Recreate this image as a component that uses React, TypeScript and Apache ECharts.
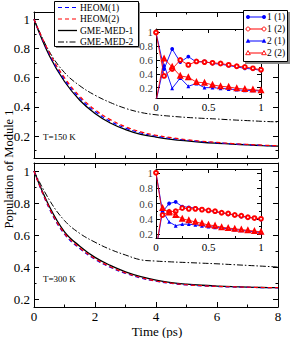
import React, { useEffect, useRef } from "react";
import * as echarts from "echarts";

const FONT = "'Liberation Serif', 'DejaVu Serif', serif";

// main panels: time (ps)
const mainTime = [0, 0.5, 1, 1.5, 2, 2.5, 3, 3.5, 4, 4.5, 5, 5.5, 6, 6.5, 7, 7.5, 8];
// T = 150 K
const heom1_150 = [1, 0.762, 0.587, 0.46, 0.368, 0.302, 0.255, 0.221, 0.2, 0.184, 0.172, 0.162, 0.154, 0.147, 0.141, 0.136, 0.132];
const heom2_150 = [1, 0.772, 0.6, 0.473, 0.38, 0.313, 0.264, 0.229, 0.206, 0.189, 0.176, 0.165, 0.157, 0.149, 0.143, 0.138, 0.134];
const gme1_150 = [1, 0.752, 0.574, 0.446, 0.355, 0.29, 0.245, 0.212, 0.193, 0.178, 0.167, 0.158, 0.151, 0.145, 0.14, 0.135, 0.131];
const gme2_150 = [1, 0.78, 0.635, 0.545, 0.48, 0.43, 0.39, 0.362, 0.346, 0.336, 0.328, 0.322, 0.317, 0.311, 0.306, 0.301, 0.297];
// T = 300 K
const heom1_300 = [1, 0.765, 0.605, 0.515, 0.448, 0.398, 0.36, 0.331, 0.311, 0.297, 0.288, 0.282, 0.278, 0.275, 0.273, 0.271, 0.27];
const heom2_300 = [1, 0.77, 0.61, 0.52, 0.452, 0.402, 0.363, 0.334, 0.313, 0.299, 0.289, 0.283, 0.279, 0.276, 0.274, 0.272, 0.271];
const gme1_300 = [1, 0.78, 0.62, 0.53, 0.46, 0.41, 0.37, 0.34, 0.318, 0.303, 0.293, 0.286, 0.281, 0.277, 0.274, 0.272, 0.271];
const gme2_300 = [1, 0.82, 0.69, 0.61, 0.555, 0.51, 0.475, 0.445, 0.437, 0.432, 0.428, 0.424, 0.42, 0.415, 0.41, 0.405, 0.4];

// insets
const insetTime150 = [0, 0.077, 0.154, 0.231, 0.308, 0.385, 0.462, 0.538, 0.615, 0.692, 0.769, 0.846, 0.923, 1];
const s11_150 = [1, 0.47, 0.76, 0.57, 0.65, 0.57, 0.58, 0.55, 0.54, 0.52, 0.5, 0.48, 0.47, 0.45];
const s12_150 = [1, 0.37, 0.47, 0.6, 0.53, 0.58, 0.57, 0.56, 0.55, 0.53, 0.51, 0.5, 0.48, 0.46];
const s21_150 = [0, 0.53, 0.19, 0.34, 0.22, 0.26, 0.2, 0.2, 0.19, 0.18, 0.17, 0.16, 0.16, 0.15];
const s22_150 = [0, 0.62, 0.5, 0.37, 0.35, 0.28, 0.27, 0.24, 0.22, 0.21, 0.19, 0.18, 0.17, 0.16];

const insetTime300 = [0, 0.0625, 0.125, 0.1875, 0.25, 0.3125, 0.375, 0.4375, 0.5, 0.5625, 0.625, 0.6875, 0.75, 0.8125, 0.875, 0.9375, 1];
const s11_300 = [1, 0.49, 0.6, 0.62, 0.56, 0.55, 0.54, 0.52, 0.51, 0.49, 0.48, 0.46, 0.45, 0.43, 0.42, 0.41, 0.39];
const s12_300 = [1, 0.45, 0.49, 0.5, 0.54, 0.53, 0.53, 0.52, 0.51, 0.5, 0.48, 0.47, 0.45, 0.44, 0.42, 0.41, 0.4];
const s21_300 = [0, 0.5, 0.36, 0.31, 0.33, 0.33, 0.32, 0.31, 0.3, 0.29, 0.28, 0.27, 0.26, 0.25, 0.24, 0.23, 0.22];
const s22_300 = [0, 0.54, 0.48, 0.45, 0.4, 0.38, 0.36, 0.34, 0.32, 0.31, 0.29, 0.28, 0.27, 0.26, 0.25, 0.24, 0.23];

// tick values
const yMajor150 = [0.2, 0.4, 0.6, 0.8, 1];
const yMinor150 = [0.1, 0.3, 0.5, 0.7, 0.9];
const yMajor300 = [0.2, 0.4, 0.6, 0.8, 1];
const yMinor300 = [0.3, 0.5, 0.7, 0.9];

const mainLegend = ["HEOM(1)", "HEOM(2)", "GME-MED-1", "GME-MED-2"];
const insetLegend = ["1 (1)", "1 (2)", "2 (1)", "2 (2)"];

const BLUE = "#0000ff";
const RED = "#ff0000";

const pairs = (xs: number[], ys: number[]) => xs.map((x, i) => [x, ys[i]]);

function frame(g: number, o: any) {
  const line = { show: true, onZero: false, lineStyle: { color: "#000", width: 1 } };
  const noLine = { show: false, onZero: false };
  const lbl = { color: "#000", fontFamily: FONT, fontSize: o.fs, showMinLabel: true, showMaxLabel: true, hideOverlap: false };
  const tickStyle = { color: "#000", width: 1 };
  const xBase = (pos: string, showLbl: boolean) => ({
    gridIndex: g,
    type: "value",
    min: o.xMin,
    max: o.xMax,
    interval: o.xInt,
    position: pos,
    axisLine: line,
    axisTick: { show: true, inside: true, length: o.major, lineStyle: tickStyle },
    minorTick: { show: true, splitNumber: 2, length: o.minor, lineStyle: tickStyle },
    splitLine: { show: false },
    minorSplitLine: { show: false },
    axisLabel: { show: showLbl, margin: o.xMargin, ...lbl },
  });
  const yBase = (pos: string, isMajor: boolean, showLbl: boolean, showLine: boolean) => ({
    gridIndex: g,
    type: "value",
    min: o.yMin,
    max: o.yMax,
    position: pos,
    axisLine: showLine ? line : noLine,
    axisTick: {
      show: true,
      inside: true,
      length: isMajor ? o.major : o.minor,
      lineStyle: tickStyle,
      customValues: isMajor ? o.yMajor : o.yMinor,
    },
    splitLine: { show: false },
    axisLabel: showLbl
      ? { show: true, margin: o.yMargin, customValues: o.yMajor, ...lbl }
      : { show: false },
  });
  return {
    xAxis: [xBase("bottom", o.xLabels), xBase("top", false)],
    yAxis: [
      yBase("left", true, o.yLabels, true),
      yBase("left", false, false, false),
      yBase("right", true, false, true),
      yBase("right", false, false, false),
    ],
  };
}

export default function App() {
  const ref = useRef<HTMLDivElement>(null);
  useEffect(() => {
    if (!ref.current) return;
    const chart = echarts.init(ref.current, undefined, { renderer: "svg" });

    const frames = [
      frame(0, { xMin: 0, xMax: 8, xInt: 2, yMin: 0.05, yMax: 1.05, yMajor: yMajor150, yMinor: yMinor150, xLabels: false, yLabels: true, fs: 13, major: 5, minor: 2.5, xMargin: 3, yMargin: 4 }),
      frame(1, { xMin: 0, xMax: 8, xInt: 2, yMin: 0.15, yMax: 1.05, yMajor: yMajor300, yMinor: yMinor300, xLabels: true, yLabels: true, fs: 13, major: 5, minor: 2.5, xMargin: 3, yMargin: 4 }),
      frame(2, { xMin: 0, xMax: 1, xInt: 0.5, yMin: 0.05, yMax: 1.05, yMajor: yMajor150, yMinor: yMinor150, xLabels: true, yLabels: false, fs: 11, major: 4, minor: 2, xMargin: 3, yMargin: 3 }),
      frame(3, { xMin: 0, xMax: 1, xInt: 0.5, yMin: 0.15, yMax: 1.05, yMajor: yMajor300, yMinor: yMinor300, xLabels: true, yLabels: false, fs: 11, major: 4, minor: 2, xMargin: 3, yMargin: 3 }),
    ];
    const xAxis = frames.flatMap((f) => f.xAxis);
    const yAxis = frames.flatMap((f) => f.yAxis);

    const mainLine = (g: number, name: string, ys: number[], color: string, type: any, width: number) => ({
      name,
      type: "line",
      xAxisIndex: g * 2,
      yAxisIndex: g * 4,
      data: pairs(mainTime, ys),
      showSymbol: false,
      smooth: 0.4,
      clip: true,
      lineStyle: { color, type, width },
      itemStyle: { color },
      z: 2,
    });
    const insetLine = (g: number, name: string, xs: number[], ys: number[], color: string, symbol: string) => ({
      name,
      type: "line",
      xAxisIndex: g * 2,
      yAxisIndex: g * 4,
      data: pairs(xs, ys),
      symbol,
      symbolSize: 3.8,
      showSymbol: true,
      clip: true,
      lineStyle: { color, width: 0.9 },
      itemStyle: { color, borderWidth: 0.8 },
      z: 3,
    });
    // inset y tick labels, placed by the inset's own y scale at x = 0
    const insetYLabels = (g: number, values: number[]) => ({
      name: "ylabels" + g,
      type: "scatter",
      xAxisIndex: g * 2,
      yAxisIndex: g * 4,
      data: values.map((v) => [0, v]),
      symbol: "circle",
      symbolSize: 1,
      silent: true,
      clip: false,
      itemStyle: { color: "rgba(0,0,0,0)" },
      label: {
        show: true,
        position: "left",
        distance: 2.5,
        formatter: (p: any) => String(p.value[1]),
        color: "#000",
        fontFamily: FONT,
        fontSize: 11,
      },
      labelLayout: { hideOverlap: false },
      z: 5,
    });

    const dashed = [4, 3];
    const dashDot = [6, 2, 1.5, 2];

    const series = [
      mainLine(0, "GME-MED-1", gme1_150, "#000", "solid", 1.3),
      mainLine(0, "GME-MED-2", gme2_150, "#000", dashDot, 1),
      mainLine(0, "HEOM(1)", heom1_150, BLUE, dashed, 1.2),
      mainLine(0, "HEOM(2)", heom2_150, RED, dashed, 1.2),
      mainLine(1, "GME-MED-1", gme1_300, "#000", "solid", 1.3),
      mainLine(1, "GME-MED-2", gme2_300, "#000", dashDot, 1),
      mainLine(1, "HEOM(1)", heom1_300, BLUE, dashed, 1.2),
      mainLine(1, "HEOM(2)", heom2_300, RED, dashed, 1.2),
      insetLine(2, "1 (1)", insetTime150, s11_150, BLUE, "circle"),
      insetLine(2, "2 (1)", insetTime150, s21_150, BLUE, "triangle"),
      insetLine(2, "1 (2)", insetTime150, s12_150, RED, "emptyCircle"),
      insetLine(2, "2 (2)", insetTime150, s22_150, RED, "emptyTriangle"),
      insetLine(3, "1 (1)", insetTime300, s11_300, BLUE, "circle"),
      insetLine(3, "2 (1)", insetTime300, s21_300, BLUE, "triangle"),
      insetLine(3, "1 (2)", insetTime300, s12_300, RED, "emptyCircle"),
      insetLine(3, "2 (2)", insetTime300, s22_300, RED, "emptyTriangle"),
      insetYLabels(2, yMajor150),
      insetYLabels(3, yMajor300),
    ];

    const txt = (x: number, y: number, text: string, fontSize: number, extra: any = {}) => ({
      type: "text",
      x,
      y,
      z: 100,
      style: { text, fontSize, fontFamily: FONT, fill: "#000", align: "left", verticalAlign: "middle", ...extra },
    });

    // main legend
    const mainStyles = [
      { stroke: BLUE, lineDash: dashed, lineWidth: 1.2 },
      { stroke: RED, lineDash: dashed, lineWidth: 1.2 },
      { stroke: "#000", lineWidth: 1.3 },
      { stroke: "#000", lineDash: dashDot, lineWidth: 1 },
    ];
    const legend1: any[] = [
      { type: "rect", z: 98, shape: { x: 56, y: 3, width: 84, height: 45 }, style: { fill: "#8a8a8a" } },
      { type: "rect", z: 99, shape: { x: 54.5, y: 1.5, width: 84, height: 45 }, style: { fill: "#fff", stroke: "#000", lineWidth: 1 } },
    ];
    mainLegend.forEach((name, i) => {
      const y = 7.5 + i * 11.5;
      legend1.push({ type: "line", z: 100, shape: { x1: 58, y1: y, x2: 77, y2: y }, style: mainStyles[i] });
      legend1.push(txt(80, y, name, 9.5));
    });

    // inset legend
    const legend2: any[] = [
      { type: "rect", z: 98, shape: { x: 245, y: 12, width: 45, height: 52 }, style: { fill: "#8a8a8a" } },
      { type: "rect", z: 99, shape: { x: 243.5, y: 10.5, width: 44, height: 51 }, style: { fill: "#fff", stroke: "#000", lineWidth: 1 } },
    ];
    const insetColors = [BLUE, RED, BLUE, RED];
    insetLegend.forEach((name, i) => {
      const y = 17 + i * 12;
      const c = insetColors[i];
      legend2.push({ type: "line", z: 100, shape: { x1: 248, y1: y, x2: 264, y2: y }, style: { stroke: c, lineWidth: 1 } });
      [248, 264].forEach((cx) => {
        if (i < 2) {
          legend2.push({
            type: "circle",
            z: 101,
            shape: { cx, cy: y, r: 2 },
            style: i === 0 ? { fill: c } : { fill: "#fff", stroke: c, lineWidth: 0.9 },
          });
        } else {
          legend2.push({
            type: "polygon",
            z: 101,
            shape: { points: [[cx, y - 2.4], [cx + 2.3, y + 1.7], [cx - 2.3, y + 1.7]] },
            style: i === 2 ? { fill: c } : { fill: "#fff", stroke: c, lineWidth: 0.9 },
          });
        }
      });
      legend2.push(txt(267, y, name, 9.5));
    });

    const graphic = [
      ...legend1,
      ...legend2,
      txt(43, 137, "T=150 K", 9),
      txt(43, 279, "T=300 K", 9),
      {
        type: "text",
        x: 9,
        y: 169,
        rotation: Math.PI / 2,
        z: 100,
        style: { text: "Population of Module 1", fontSize: 12.5, fontFamily: FONT, fill: "#000", align: "center", verticalAlign: "middle" },
      },
      txt(157, 331, "Time (ps)", 13, { align: "center" }),
    ];

    chart.setOption({
      animation: false,
      backgroundColor: "#fff",
      grid: [
        { left: 34, top: 12, width: 244, height: 146 },
        { left: 34, top: 163, width: 244, height: 144 },
        { left: 156, top: 29, width: 105, height: 69 },
        { left: 156, top: 169, width: 105, height: 69 },
      ],
      xAxis,
      yAxis,
      series,
      graphic,
    });
    return () => chart.dispose();
  }, []);
  return <div ref={ref} style={{ position: "fixed", left: 0, top: 0, width: 291, height: 338 }} />;
}
